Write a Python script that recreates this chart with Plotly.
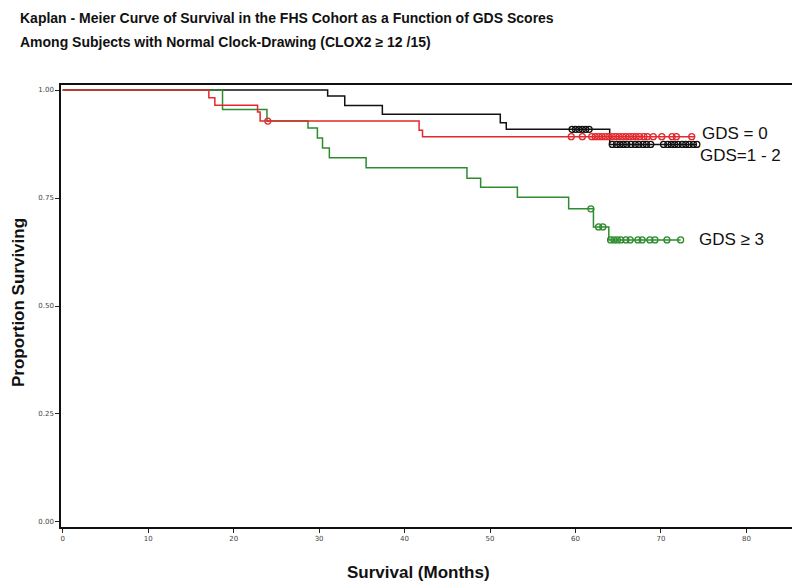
import numpy as np
import plotly.graph_objects as go

# ---------------- data ----------------
title_lines = ["Kaplan - Meier Curve of Survival in the FHS Cohort as a Function of GDS Scores",
               "Among Subjects with Normal Clock-Drawing (CLOX2 \u2265 12 /15)"]
x_title = "Survival (Months)"
y_title = "Proportion Surviving"

x_ticks = [0, 10, 20, 30, 40, 50, 60, 70, 80]
y_ticks = [0.0, 0.25, 0.5, 0.75, 1.0]

group_names = ["GDS = 0", "GDS=1 - 2", "GDS \u2265 3"]

# GDS = 0 (red)
gds0_time = [0, 17.1, 17.8, 22.8, 23.1, 41.7, 42.1, 74.0]
gds0_surv = [1.0, 0.982, 0.965, 0.949, 0.928, 0.907, 0.892, 0.892]
gds0_cens = [24.0, 59.5, 60.8, 61.9, 62.3, 62.7, 63.1, 63.5, 63.9, 64.3, 64.7, 65.1,
             65.5, 65.9, 66.3, 66.7, 67.1, 67.5, 68.0, 68.4, 69.1, 70.1, 71.3, 71.8, 73.6]

# GDS = 1-2 (black)
gds12_time = [0, 31.0, 33.0, 37.4, 51.2, 51.9, 64.0, 74.2]
gds12_surv = [1.0, 0.986, 0.964, 0.944, 0.924, 0.909, 0.874, 0.874]
gds12_cens = [59.6, 60.0, 60.4, 60.8, 61.2, 61.6, 64.3, 64.8, 65.2, 65.6, 66.0, 66.5,
              67.0, 67.4, 67.9, 68.3, 68.8, 70.3, 70.8, 71.2, 71.6, 72.0, 72.5,
              72.9, 73.3, 73.8, 74.2]

# GDS >= 3 (green)
gds3_time = [0, 18.7, 23.9, 28.7, 29.8, 30.4, 31.2, 35.5, 47.3, 48.9, 53.2, 59.2,
             62.1, 63.9, 72.3]
gds3_surv = [1.0, 0.955, 0.928, 0.912, 0.889, 0.866, 0.843, 0.82, 0.796, 0.775,
             0.752, 0.725, 0.683, 0.653, 0.653]
gds3_cens = [61.8, 62.7, 63.2, 64.1, 64.5, 64.9, 65.3, 65.9, 66.4, 67.3, 67.8, 68.7,
             69.3, 70.7, 72.3]

colors = ["#e2292e", "#111111", "#2e8b2e"]

# ---------------- layout geometry ----------------
# the page body adds an 8px offset, so the figure is laid out in shifted coordinates
OFF = 8
W, H = 800 - OFF, 586 - OFF
ML, MT = 61 - OFF, 85 - OFF
MR = W - (796 - OFF)
MB = H - (527 - OFF)
PW, PH = W - ML - MR, H - MT - MB


def px_x(x):  # page pixel -> paper x
    return (x - OFF - ML) / PW


def px_y(y):  # page pixel -> paper y
    return (H - MB - (y - OFF)) / PH


def surv_at(times, survs, t):
    idx = np.searchsorted(np.array(times), np.array(t), side="right") - 1
    return np.array(survs)[idx]


fig = go.Figure()
groups = [
    (group_names[1], gds12_time, gds12_surv, gds12_cens, colors[1]),
    (group_names[2], gds3_time, gds3_surv, gds3_cens, colors[2]),
    (group_names[0], gds0_time, gds0_surv, gds0_cens, colors[0]),
]
for name, t, s, c, col in groups:
    fig.add_trace(go.Scatter(x=t, y=s, mode="lines", line=dict(color=col, width=1.5, shape="hv"),
                             name=name, showlegend=False, hoverinfo="skip"))
    fig.add_trace(go.Scatter(x=c, y=surv_at(t, s, c), mode="markers",
                             marker=dict(symbol="circle-open", size=6, color=col,
                                         line=dict(width=1.3, color=col)),
                             showlegend=False, hoverinfo="skip"))

# end-of-curve labels
label_font = dict(family="Liberation Sans, Arial", size=17, color="#111")
fig.add_annotation(x=gds0_time[-1], y=gds0_surv[-1], text=group_names[0], showarrow=False,
                   xanchor="left", yanchor="middle", xshift=6, yshift=3, borderpad=0, font=label_font)
fig.add_annotation(x=gds12_time[-1], y=gds12_surv[-1], text=group_names[1], showarrow=False,
                   xanchor="left", yanchor="middle", xshift=2, yshift=-11, borderpad=0, font=label_font)
fig.add_annotation(x=gds3_time[-1], y=gds3_surv[-1], text=group_names[2], showarrow=False,
                   xanchor="left", yanchor="middle", xshift=17, borderpad=0, font=label_font)

# chart title (two lines, top-left)
title_font = dict(family="Liberation Sans, Arial", size=14, color="#111")
for line, yc in zip(title_lines, [18, 42]):
    fig.add_annotation(xref="paper", yref="paper", x=px_x(18), y=px_y(yc),
                       xanchor="left", yanchor="middle",
                       text="<b>" + line + "</b>", showarrow=False, align="left",
                       font=title_font)

# axis titles
fig.add_annotation(xref="paper", yref="paper", x=px_x(418), y=px_y(572),
                   xanchor="center", yanchor="middle", text="<b>" + x_title + "</b>", showarrow=False,
                   font=dict(family="Liberation Sans, Arial", size=17, color="#111"))
fig.add_annotation(xref="paper", yref="paper", x=px_x(18), y=px_y(303),
                   xanchor="center", yanchor="middle", text="<b>" + y_title + "</b>", showarrow=False,
                   textangle=-90,
                   font=dict(family="Liberation Sans, Arial", size=17, color="#111"))

tickfont = dict(family="DejaVu Sans, Verdana", size=7, color="#444")
fig.update_xaxes(range=[-0.2, 85.8], tickvals=x_ticks, ticktext=[str(v) for v in x_ticks],
                 ticks="outside", ticklen=4, tickcolor="#222", tickfont=tickfont,
                 showline=True, linecolor="#111", linewidth=1.5, mirror=True,
                 showgrid=False, zeroline=False, automargin=False)
fig.update_yaxes(range=[-0.0116, 1.0116], tickvals=y_ticks, ticktext=[f"{v:.2f}" for v in y_ticks],
                 ticks="outside", ticklen=4, tickcolor="#222", tickfont=tickfont,
                 showline=True, linecolor="#111", linewidth=1.5, mirror=True,
                 showgrid=False, zeroline=False, automargin=False)

fig.update_layout(width=W, height=H, margin=dict(l=ML, r=MR, t=MT, b=MB, autoexpand=False),
                  plot_bgcolor="white", paper_bgcolor="white")

fig.write_html("out.html")
